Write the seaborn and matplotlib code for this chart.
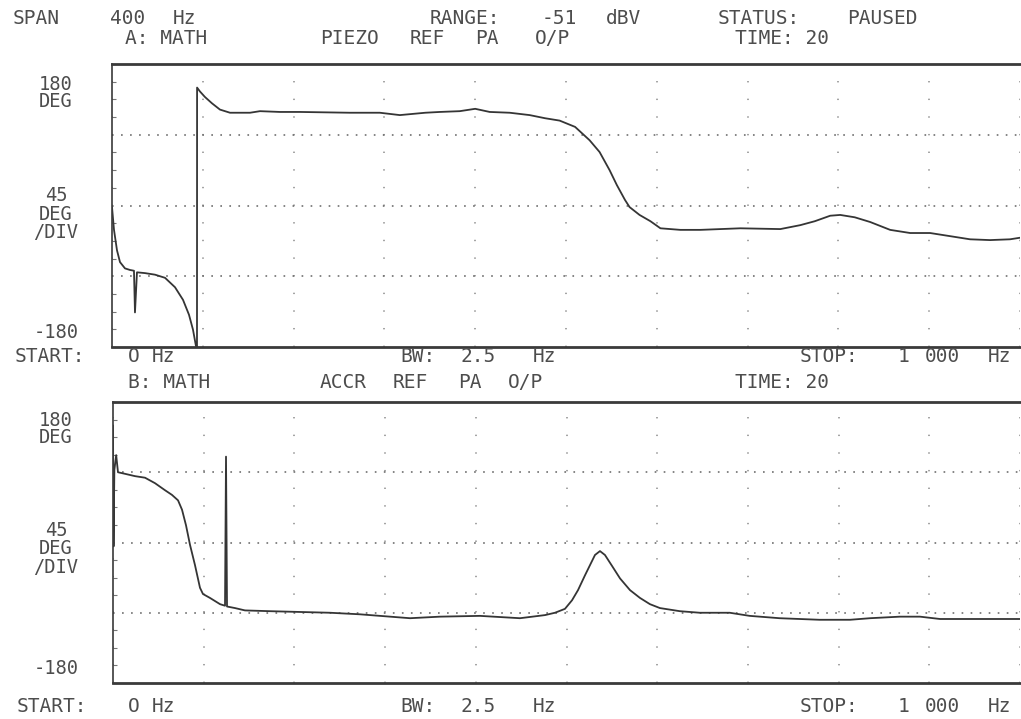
import numpy as np
import pandas as pd
import matplotlib
matplotlib.use("Agg")
import matplotlib.pyplot as plt
import seaborn as sns

# ---------------- data (frequency in Hz, phase in degrees) ----------------
a_freq = [0, 2.2, 5.5, 8.8, 14.3, 19.8, 24.2, 25.3, 27.5, 36.3, 47.4, 58.4, 69.4,
          78.2, 84.8, 89.2, 92.5, 93.6, 93.7, 96.9, 102.4, 110.1, 118.9, 130, 152,
          163, 185, 207, 262, 295, 317, 345, 361, 383, 400, 416, 438, 460, 477,
          493, 510, 526, 537, 548, 556, 565, 570, 581, 593, 604, 626, 648, 670,
          692, 736, 758, 774, 791, 802, 818, 835, 857, 879, 901, 923, 945, 967,
          989, 1000]
a_phase = [-2, -31, -57, -72, -80, -82, -83, -136, -85, -86, -88, -92, -104,
           -120, -139, -158, -179, -180, 150, 145, 138, 130, 122, 118, 118,
           120, 119, 119, 118, 118, 115, 118, 119, 120, 123, 119, 118, 115, 111,
           108, 100, 83, 68, 45, 26, 7, -2, -12, -20, -29, -31, -31, -30,
           -29, -30, -25, -20, -13, -12, -15, -21, -31, -35, -35, -39, -43, -44,
           -43, -41]

b_freq = [0, 0.6, 1.5, 3.5, 5.5, 13.2, 24.3, 35.3, 46.3, 57.3, 65, 71.7, 76.1,
          80.5, 84.9, 90.4, 95.9, 99.2, 106.9, 118, 123.5, 124.6, 125.7, 134.5,
          145.5, 173.1, 206.2, 239.3, 272.3, 294.4, 327.5, 360.5, 404.6, 448.7,
          476.3, 487.3, 498.3, 506.1, 512.7, 520.4, 525.9, 531.4, 536.9, 542.4,
          550.2, 559, 570, 581, 592, 603, 625, 647, 680, 702, 735, 779, 812.6,
          834.6, 867.7, 889.7, 911.8, 955.9, 1000]
b_phase = [150, -5, 93, 112, 90, 88, 85, 83, 76, 67, 61, 54, 42,
           22, -3, -29, -58, -66, -71, -79, -81, 110, -82, -84,
           -87, -88, -89, -90, -92, -94, -97, -95, -94, -97,
           -93, -90, -85, -74, -61, -42, -29, -16, -11, -16,
           -30, -46, -61, -71, -79, -84, -88, -90, -90, -94, -97, -99, -99,
           -97, -95, -95, -98, -98, -98]

x_ticks = list(range(0, 1001, 100))
y_grid = [-90, 0, 90]

# text labels: (string, x_px, y_px)
top_texts = [("SPAN", 13, 18), ("400", 110, 18), ("Hz", 173, 18),
             ("RANGE:", 430, 18), ("-51", 542, 18), ("dBV", 606, 18),
             ("STATUS:", 718, 18), ("PAUSED", 847, 18),
             ("A: MATH", 125, 38), ("PIEZO", 320, 38), ("REF", 410, 38),
             ("PA", 475, 38), ("O/P", 535, 38), ("TIME: 20", 735, 38),
             ("START:", 15, 357), ("O", 128, 357), ("Hz", 152, 357),
             ("BW:", 400, 357), ("2.5", 460, 357), ("Hz", 533, 357),
             ("STOP:", 800, 357), ("1", 898, 357), ("000", 925, 357), ("Hz", 988, 357),
             ("B: MATH", 128, 383), ("ACCR", 320, 383), ("REF", 393, 383),
             ("PA", 458, 383), ("O/P", 508, 383), ("TIME: 20", 735, 383),
             ("START:", 17, 706), ("O", 128, 706), ("Hz", 152, 706),
             ("BW:", 400, 706), ("2.5", 460, 706), ("Hz", 533, 706),
             ("STOP:", 800, 706), ("1", 898, 706), ("000", 925, 706), ("Hz", 988, 706)]
# y-axis annotation blocks: (text, centre y_px, line spacing)
axis_texts = [("180\nDEG", 93, 0.82), ("45\nDEG\n/DIV", 214, 0.95), ("-180", 333, 1.0),
              ("180\nDEG", 429, 0.82), ("45\nDEG\n/DIV", 549, 0.95), ("-180", 668, 1.0)]

# ---------------- figure ----------------
sns.set_theme(style="white")
plt.rcParams["font.family"] = ["DejaVu Sans Mono", "DejaVu Sans"]
plt.rcParams["lines.scale_dashes"] = False

W, H = 1021, 719
fig = plt.figure(figsize=(W / 100, H / 100), dpi=100)
fig.patch.set_facecolor("white")

ax_a = fig.add_axes([112 / W, 1 - 347 / H, (1020 - 112) / W, (347 - 64) / H])
ax_b = fig.add_axes([113 / W, 1 - 683 / H, (1020 - 113) / W, (683 - 402) / H])

df_a = pd.DataFrame({"freq": a_freq, "phase": a_phase})
df_b = pd.DataFrame({"freq": b_freq, "phase": b_phase})

line_col = "#353535"
for ax, df in ((ax_a, df_a), (ax_b, df_b)):
    sns.lineplot(data=df, x="freq", y="phase", sort=False, estimator=None,
                 color=line_col, linewidth=1.3, ax=ax)
    ax.set_xlim(0, 1000)
    ax.set_ylim(-180, 180)
    ax.set_xlabel("")
    ax.set_ylabel("")
    ax.set_xticks(x_ticks)
    ax.set_yticks(y_grid)
    ax.set_xticklabels([])
    ax.set_yticklabels([])
    ax.set_yticks(np.arange(-180, 181, 22.5), minor=True)
    ax.tick_params(axis="both", which="major", length=0)
    ax.tick_params(axis="y", which="minor", left=True, direction="in",
                   length=3, width=0.8, color="#777777")
    ax.xaxis.grid(True, color="#8a8a8a", linewidth=1.1, linestyle=(0, (1.0, 11.7)))
    ax.yaxis.grid(True, color="#6f6f6f", linewidth=1.2, linestyle=(0, (1.2, 5.3)))
    ax.set_axisbelow(True)
    for side in ("top", "bottom"):
        ax.spines[side].set_linewidth(2.0)
        ax.spines[side].set_color("#3a3a3a")
    ax.spines["left"].set_linewidth(1.2)
    ax.spines["left"].set_color("#3a3a3a")
    ax.spines["right"].set_visible(False)
    ax.set_facecolor("white")

txt_col = "#4d4d4d"
for s, x, y in top_texts:
    fig.text(x / W, 1 - y / H, s, ha="left", va="center", fontsize=14, color=txt_col)
for s, y, ls in axis_texts:
    fig.text(56 / W, 1 - y / H, s, ha="center", va="center", fontsize=13.5,
             color=txt_col, linespacing=ls, multialignment="center")

fig.savefig("out.png", dpi=100, facecolor="white")
